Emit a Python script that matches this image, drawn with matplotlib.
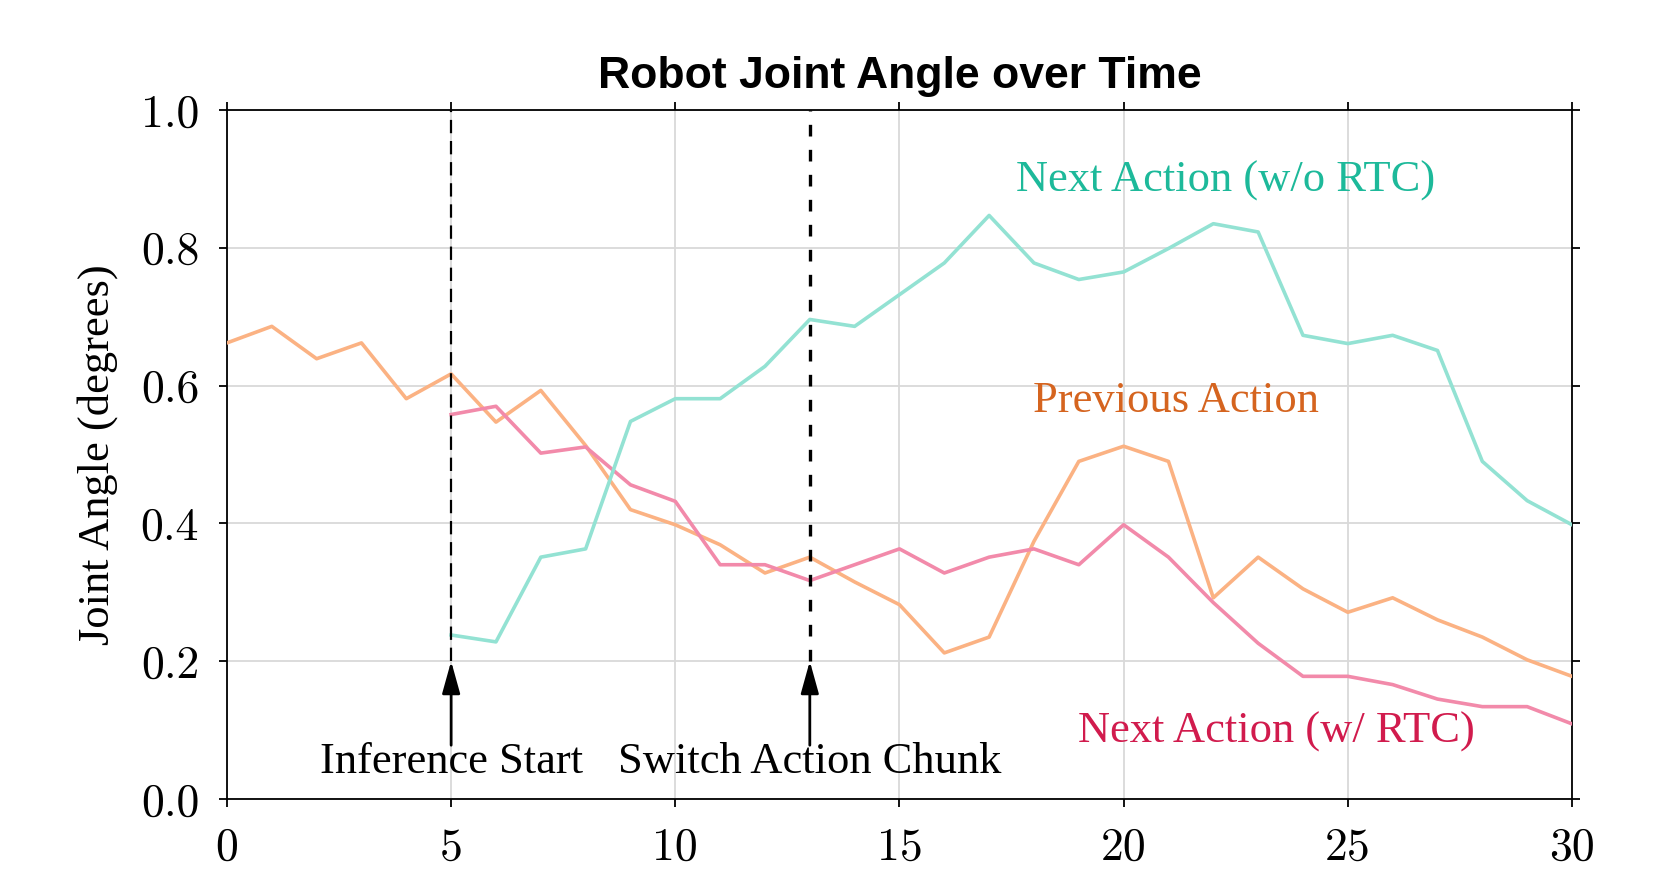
import matplotlib
matplotlib.use("Agg")
import matplotlib.pyplot as plt
import numpy as np

# data
steps = np.arange(0, 31)
prev_action = [0.662, 0.686, 0.639, 0.662, 0.581, 0.617, 0.547, 0.593, 0.513, 0.420,
               0.398, 0.369, 0.328, 0.351, 0.315, 0.282, 0.212, 0.235, 0.374, 0.490,
               0.512, 0.490, 0.292, 0.351, 0.305, 0.271, 0.292, 0.260, 0.235, 0.202, 0.178]
rtc_steps = np.arange(5, 31)
next_rtc = [0.558, 0.570, 0.502, 0.511, 0.456, 0.432, 0.340, 0.340, 0.317, 0.340,
            0.363, 0.328, 0.351, 0.363, 0.340, 0.398, 0.351, 0.285, 0.226, 0.178,
            0.178, 0.166, 0.145, 0.134, 0.134, 0.109]
next_no_rtc = [0.238, 0.228, 0.351, 0.363, 0.548, 0.581, 0.581, 0.628, 0.696, 0.686,
               0.732, 0.778, 0.847, 0.778, 0.754, 0.765, 0.799, 0.835, 0.823, 0.673,
               0.661, 0.673, 0.651, 0.490, 0.433, 0.398]

events = [5, 13]
event_labels = ["Inference Start", "Switch Action Chunk"]

serif = ["Liberation Serif", "DejaVu Serif"]

fig = plt.figure(figsize=(16.64, 8.91), dpi=100)
ax = fig.add_axes([0.1364, 0.1033, 0.8083, 0.7732])

ax.plot(steps, prev_action, color="#fbb283", lw=2.6, zorder=3)
ax.plot(rtc_steps, next_rtc, color="#f28aaa", lw=2.6, zorder=3)
ax.plot(rtc_steps, next_no_rtc, color="#93e2d3", lw=2.6, zorder=3)

# event markers
ax.plot([events[0], events[0]], [0.2, 1.0], color="black", lw=1.6, ls=(0, (6, 3.5)), zorder=4)
ax.plot([events[1], events[1]], [0.2, 1.0], color="black", lw=2.4, ls=(0, (3.5, 4)), zorder=4)
for xe, lab in zip(events, event_labels):
    ax.annotate("", xy=(xe, 0.2), xytext=(xe, 0.078),
                arrowprops=dict(arrowstyle="-|>,head_length=0.9,head_width=0.25",
                                color="black", lw=2, mutation_scale=22,
                                shrinkA=0, shrinkB=0))
    ax.text(xe, 0.053, lab, ha="center", va="center", fontsize=32, family=serif)

ax.text(22.28, 0.898, "Next Action (w/o RTC)", color="#1db99a", ha="center", va="center",
        fontsize=32, family=serif)
ax.text(21.16, 0.578, "Previous Action", color="#d5641f", ha="center", va="center",
        fontsize=32, family=serif)
ax.text(23.41, 0.097, "Next Action (w/ RTC)", color="#d11b4d", ha="center", va="center",
        fontsize=32, family=serif)

ax.set_xlim(0, 30)
ax.set_ylim(0, 1.0)
ax.set_xticks([0, 5, 10, 15, 20, 25, 30])
ax.set_yticks([0.0, 0.2, 0.4, 0.6, 0.8, 1.0])
ax.set_yticklabels(["0.0", "0.2", "0.4", "0.6", "0.8", "1.0"])
ax.grid(True, color="#d9d9d9", lw=1.3, zorder=0)
ax.set_axisbelow(True)
ax.tick_params(direction="out", length=6, width=1.3, top=True, right=True,
               labelsize=33, pad=14)
for lab in ax.get_xticklabels() + ax.get_yticklabels():
    lab.set_family("cmr10")
for s in ax.spines.values():
    s.set_linewidth(1.3)

ax.set_ylabel("Joint Angle (degrees)", fontsize=32, family=serif, labelpad=16)
ax.set_title("Robot Joint Angle over Time", fontsize=32, fontweight="bold",
             family="Liberation Sans", pad=16)

plt.savefig("out.png", dpi=100)
